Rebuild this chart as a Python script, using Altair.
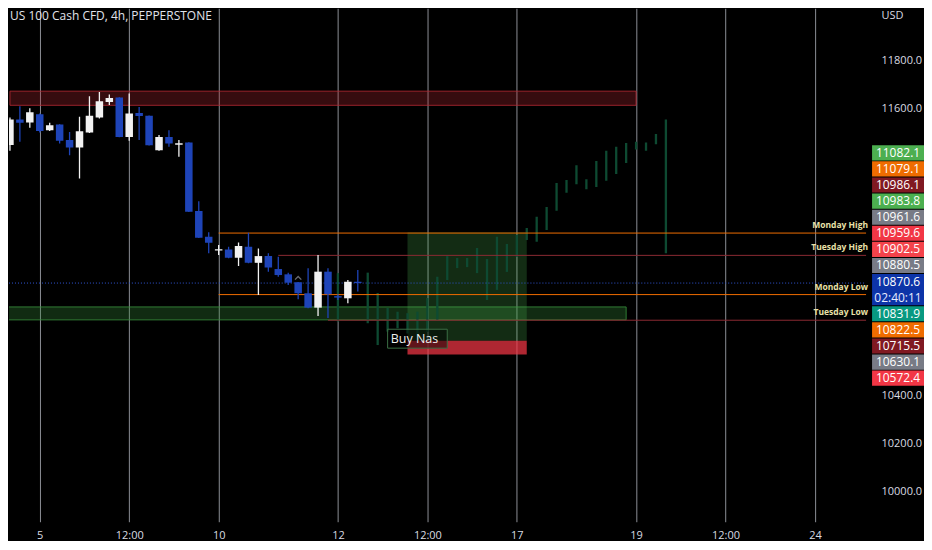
import altair as alt
import pandas as pd

FONT = "Open Sans"
TXT = "#d9dbe0"
W, H = 858, 514

# ---- 4h candles, x = bar slot on the (weekend-compressed) time axis ----
bar_slot = list(range(37))
bar_open = [11358, 11446, 11553, 11540, 11575, 11508, 11532, 11467, 11436, 11499,
            11561, 11626, 11645, 11480, 11580, 11568, 11425, 11480, 11448, 11457,
            11171, 11064, 11006, 11011, 10976, 11022, 10955, 10983, 10929, 10907,
            10874, 10828, 10768, 10918, 10816, 10807, 10876]
bar_high = [11458, 11561, 11608, 11600, 11578, 11539, 11533, 11501, 11564, 11650,
            11668, 11657, 11646, 11661, 11605, 11569, 11488, 11508, 11467, 11458,
            11212, 11082, 11029, 11022, 11040, 11080, 11015, 10995, 10980, 10914,
            10875, 10932, 10988, 10932, 10824, 10883, 10925]
bar_low = [11350, 11422, 11460, 11518, 11499, 11505, 11453, 11404, 11307, 11497,
           11557, 11613, 11479, 11464, 11467, 11444, 11422, 11439, 11397, 11167,
           11059, 10995, 10988, 10974, 10942, 10953, 10821, 10918, 10897, 10862,
           10803, 10765, 10733, 10725, 10800, 10786, 10835]
bar_close = [11450, 11553, 11539, 11583, 11505, 11529, 11464, 11436, 11504, 11568,
             11629, 11643, 11480, 11578, 11567, 11445, 11480, 11453, 11454, 11168,
             11060, 11039, 11012, 10976, 11025, 10955, 10983, 10935, 10904, 10872,
             10828, 10768, 10918, 10824, 10810, 10876, 10870.6]

# ---- projected "ghost" bars (high-low only) ----
ghost_slot = [34, 37, 38, 39, 40, 41, 42, 43, 44, 45, 46, 47, 48, 49, 50, 51, 52,
              53, 54, 55, 56, 57, 58, 59, 60, 61, 62, 63, 64, 65, 66, 67]
ghost_high = [10912, 10914, 10829, 10767, 10751, 10745, 10751, 10808, 10897, 10983,
              10975, 10975, 11017, 10971, 11064, 11033, 11071, 11100, 11147, 11188,
              11288, 11300, 11362, 11304, 11380, 11422, 11439, 11455, 11460, 11457,
              11492, 11553]
ghost_low = [10710, 10703, 10612, 10668, 10682, 10660, 10633, 10667, 10717, 10883,
             10933, 10937, 10912, 10800, 10842, 10917, 10980, 11050, 11043, 11092,
             11172, 11247, 11283, 11262, 11271, 11297, 11325, 11371, 11428, 11422,
             11450, 10995]

# ---- axes ----
tick_slot = [4, 13, 22, 34, 43, 52, 64, 73, 82]
tick_text = ["5", "12:00", "10", "12", "12:00", "17", "19", "12:00", "24"]
price_ticks = [10000, 10200, 10400, 11600, 11800]

# ---- day high / low levels ----
level_name = ["Monday High", "Tuesday High", "Monday Low", "Tuesday Low"]
level_price = [11079.1, 10986.1, 10822.5, 10715.5]
level_from = [22, 28, 22, 33]
level_color = ["#ef6c00", "#8c2a32", "#ef6c00", "#8c2a32"]
last_price = 10870.6

# ---- zones ----
zone_from = [1, 0]
zone_to = [64, 63]
zone_top = [11671, 10771]
zone_bottom = [11612, 10717]
zone_color = ["#b22833", "#388e3c"]

# ---- long position ----
trade_from, trade_to = 41, 53
entry_price, target_price, stop_price = 10630.1, 11082.1, 10572.4
note_from, note_to = 39, 45
note_top, note_bottom = 10678, 10599
note_text = "Buy Nas"

# ---- price badges on the scale (stacked rows) ----
badge_text = ["11082.1", "11079.1", "10986.1", "10983.8", "10961.6", "10959.6", "10902.5",
              "10880.5", "10870.6", "10831.9", "10822.5", "10715.5", "10630.1", "10572.4"]
badge_color = ["#4caf50", "#ef6c00", "#801922", "#4caf50", "#787b86", "#f23645", "#f4434b",
               "#787b86", "#0d34a8", "#089981", "#ef6c00", "#801922", "#787b86", "#f23645"]
badge_row = [0, 1, 2, 3, 4, 5, 6, 7, 8, 10, 11, 12, 13, 14]
badge_lines = [1, 1, 1, 1, 1, 1, 1, 1, 2, 1, 1, 1, 1, 1]
timer_text = "02:40:11"
timer_row = 9

bars = pd.DataFrame({"k": bar_slot, "o": bar_open, "h": bar_high, "l": bar_low, "c": bar_close})
ghosts = pd.DataFrame({"k": ghost_slot, "h": ghost_high, "l": ghost_low})
levels = pd.DataFrame({"name": level_name, "p": level_price, "k": level_from, "color": level_color})
zones = pd.DataFrame({"k0": zone_from, "k1": zone_to, "p0": zone_top, "p1": zone_bottom, "color": zone_color})
trade = pd.DataFrame({"k0": [trade_from, trade_from], "k1": [trade_to, trade_to],
                      "p0": [target_price, entry_price], "p1": [entry_price, stop_price],
                      "kind": ["profit", "loss"]})
note = pd.DataFrame({"k0": [note_from], "k1": [note_to], "p0": [note_top], "p1": [note_bottom],
                     "text": [note_text]})
badges = pd.DataFrame({"text": badge_text, "color": badge_color, "row": badge_row, "lines": badge_lines})
timer = pd.DataFrame({"text": [timer_text], "row": [timer_row]})
caret = pd.DataFrame({"k": [30], "p": [10894]})

label_expr = " : ".join(f"datum.value == {s} ? '{t}'" for s, t in zip(tick_slot, tick_text)) + " : ''"

xs = alt.Scale(domain=[0.905, 87.14], nice=False, zero=False, padding=0)
ys = alt.Scale(domain=[9875, 12016.7], nice=False, zero=False, padding=0)
x_axis = alt.Axis(values=tick_slot, labelExpr=label_expr, grid=True, gridColor="#8c8f96",
                  gridWidth=1, ticks=False, domain=False, labelColor=TXT, labelFont=FONT,
                  labelFontSize=11, labelPadding=8, title=None)
y_axis = alt.Axis(orient="right", values=price_ticks, format=".1f", grid=False, ticks=False,
                  domain=False, labelPadding=15, labelAlign="left", labelColor=TXT,
                  labelFont=FONT, labelFontSize=11, title="USD", titleAngle=0, titleX=15,
                  titleY=7, titleAlign="left", titleBaseline="middle", titleColor=TXT,
                  titleFont=FONT, titleFontSize=11, titleFontWeight="normal")


def X(f):
    return alt.X(f, type="quantitative", scale=xs, axis=x_axis)


def Y(f):
    return alt.Y(f, type="quantitative", scale=ys, axis=y_axis)


zone_layer = alt.Chart(zones).mark_rect(clip=True, fillOpacity=0.3, strokeOpacity=0.85, strokeWidth=1).encode(
    x=X("k0"), x2="k1", y=Y("p0"), y2="p1",
    fill=alt.Fill("color:N", scale=None), stroke=alt.Stroke("color:N", scale=None))

trade_layer = alt.Chart(trade).mark_rect(clip=True).encode(
    x=X("k0"), x2="k1", y=Y("p0"), y2="p1",
    color=alt.Color("kind:N", scale=alt.Scale(domain=["profit", "loss"], range=["#4caf50", "#f23645"]), legend=None),
    opacity=alt.Opacity("kind:N", scale=alt.Scale(domain=["profit", "loss"], range=[0.25, 0.72]), legend=None))

ghost_layer = alt.Chart(ghosts).mark_rule(clip=True, strokeWidth=2.3, color="#0e4a32").encode(
    x=X("k"), y=Y("l"), y2="h")

level_layer = alt.Chart(levels).mark_rule(strokeWidth=1).encode(
    x=X("k"), x2=alt.value(W), y=Y("p"), color=alt.Color("color:N", scale=None))

last_layer = alt.Chart(pd.DataFrame({"p": [last_price]})).mark_rule(
    strokeWidth=1, strokeDash=[1, 2], color="#2f55d4").encode(x=alt.value(0), x2=alt.value(W), y=Y("p"))

level_text = alt.Chart(levels).mark_text(align="right", baseline="middle", dy=-8, font=FONT,
                                         fontSize=8.5, fontWeight="bold", color="#e8e0a8").encode(
    x=alt.value(W + 2), y=Y("p"), text="name:N")

candle_color = alt.condition("datum.c >= datum.o", alt.value("#f2f2f2"), alt.value("#1e44b8"))
wick_layer = alt.Chart(bars).mark_rule(clip=True, strokeWidth=1.3).encode(
    x=X("k"), y=Y("l"), y2="h", color=candle_color)
body_layer = alt.Chart(bars).mark_bar(clip=True, width=7.5).encode(
    x=X("k"), y=Y("o"), y2="c", color=candle_color)

caret_layer = alt.Chart(caret).mark_point(shape="M-1,0.7L0,-0.3L1,0.7", filled=False, size=40,
                                          strokeWidth=1.3, color="#9598a1").encode(x=X("k"), y=Y("p"))

note_box = alt.Chart(note).mark_rect(fill="#000000", fillOpacity=0.45, stroke="#3b6e44", strokeWidth=1).encode(
    x=X("k0"), x2="k1", y=Y("p0"), y2="p1")
note_label = alt.Chart(note).mark_text(font=FONT, fontSize=12.5, color="#eeeeee", dx=-3).encode(
    x=X("k0"), y=Y("p0"), text="text:N").transform_calculate(
    k0="(datum.k0 + datum.k1) / 2", p0="(datum.p0 + datum.p1) / 2")

title_text = alt.Chart(pd.DataFrame({"t": ["US 100 Cash CFD, 4h, PEPPERSTONE"]})).mark_text(
    align="left", baseline="middle", font=FONT, fontSize=12, color="#e0e3eb").encode(
    x=alt.value(1), y=alt.value(8), text="t:N")

main = alt.layer(zone_layer, trade_layer, ghost_layer, level_layer, last_layer, level_text,
                 wick_layer, body_layer, caret_layer, note_box, note_label, title_text)

row_scale = alt.Scale(domain=[-8.98, 22.92], reverse=True, nice=False, zero=False)
badge_rect = alt.Chart(badges).transform_calculate(
    lo="datum.row - 0.47", hi="datum.row + datum.lines - 0.53").mark_rect().encode(
    x=alt.value(W + 6), x2=alt.value(W + 58),
    y=alt.Y("lo:Q", scale=row_scale, axis=None), y2="hi:Q",
    color=alt.Color("color:N", scale=None))
badge_label = alt.Chart(badges).mark_text(font=FONT, fontSize=12, color="#ffffff", baseline="middle").encode(
    x=alt.value(W + 32), y=alt.Y("row:Q", scale=row_scale, axis=None), text="text:N")
timer_label = alt.Chart(timer).mark_text(font=FONT, fontSize=12, color="#e6ebff", baseline="middle").encode(
    x=alt.value(W + 32), y=alt.Y("row:Q", scale=row_scale, axis=None), text="text:N")
badge_layer = alt.layer(badge_rect, badge_label, timer_label)

chart = alt.layer(main, badge_layer).resolve_scale(y="independent").properties(
    width=W, height=H, background="#000000", padding=0
).configure_view(stroke=None)

chart.save("out.html", embed_options={"renderer": "svg", "actions": False})
